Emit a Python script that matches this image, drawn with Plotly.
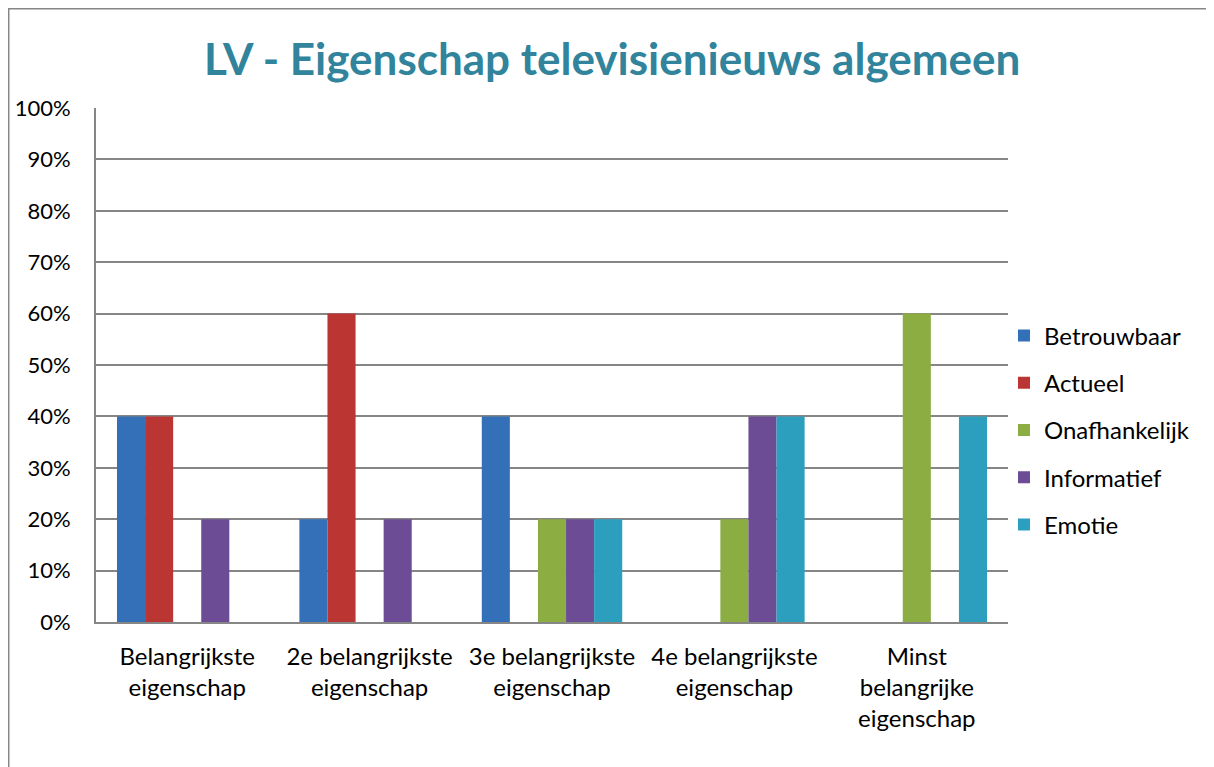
import plotly.graph_objects as go

categories = [
    "Belangrijkste<br>eigenschap",
    "2e belangrijkste<br>eigenschap",
    "3e belangrijkste<br>eigenschap",
    "4e belangrijkste<br>eigenschap",
    "Minst<br>belangrijke<br>eigenschap",
]
betrouwbaar = [0.40, 0.20, 0.40, 0.00, 0.00]
actueel = [0.40, 0.60, 0.00, 0.00, 0.00]
onafhankelijk = [0.00, 0.00, 0.20, 0.20, 0.60]
informatief = [0.20, 0.20, 0.20, 0.40, 0.00]
emotie = [0.00, 0.00, 0.20, 0.40, 0.40]

series = [
    ("Betrouwbaar", betrouwbaar, "#3470b8"),
    ("Actueel", actueel, "#bb3533"),
    ("Onafhankelijk", onafhankelijk, "#8bad42"),
    ("Informatief", informatief, "#6c4c94"),
    ("Emotie", emotie, "#2c9fbf"),
]

font_family = "Lato, 'Open Sans', sans-serif"

fig = go.Figure()

for name, vals, color in series:
    fig.add_trace(go.Bar(
        x=categories,
        y=vals,
        name=name,
        legendgroup=name,
        marker=dict(color=color, line=dict(width=0)),
    ))

# outer chart border (Excel chart frame)
fig.add_shape(type="rect", xref="paper", yref="paper",
              x0=-0.0957, x1=1.3, y0=-0.4, y1=1.193,
              line=dict(color="#868686", width=1.5), fillcolor="rgba(0,0,0,0)", layer="below")

fig.update_layout(
    width=1206, height=759,
    margin=dict(l=88, r=206, t=100, b=145),
    paper_bgcolor="white", plot_bgcolor="white",
    font=dict(family=font_family, size=24, color="black"),
    title=dict(text="<b>LV - Eigenschap televisienieuws algemeen</b>",
               x=0.501, xanchor="center", y=0.9315, yanchor="middle",
               font=dict(size=44, color="#31849b", family=font_family)),
    barmode="group", bargap=0.23, bargroupgap=0,
    legend=dict(x=0.9956, xanchor="left", y=0.3735, yanchor="middle",
                font=dict(size=24), tracegroupgap=13, bgcolor="rgba(0,0,0,0)"),
    showlegend=True,
)
fig.update_xaxes(showline=True, linecolor="#868686", linewidth=2, automargin=False,
                 showgrid=False, ticks="", ticklabelstandoff=12, tickfont=dict(size=24))
fig.update_yaxes(range=[0, 1], dtick=0.1, tickformat=".0%", automargin=False,
                 showline=True, linecolor="#868686", linewidth=2,
                 showgrid=True, gridcolor="#868686", gridwidth=2,
                 zeroline=False, ticks="", ticklabelstandoff=19, tickfont=dict(size=22))

fig.write_html("out.html")
